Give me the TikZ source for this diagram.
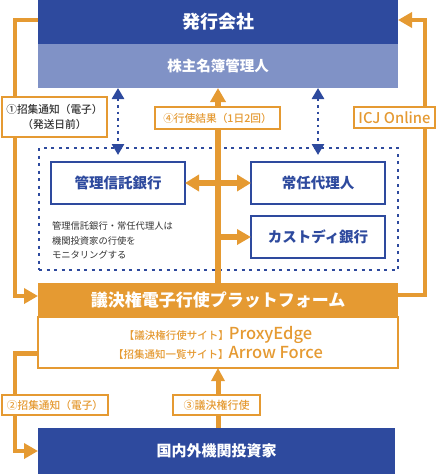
\documentclass[tikz,border=0pt]{standalone}
\usepackage{fontspec}
\setmainfont{Noto Sans CJK JP}
\newfontfamily\jpmed{Noto Sans CJK JP Medium}
\usetikzlibrary{arrows.meta}
\definecolor{dkblue}{HTML}{2E4A9E}
\definecolor{ltblue}{HTML}{8092C6}
\definecolor{orng}{HTML}{E59A32}
\definecolor{txtdark}{HTML}{333333}
\begin{document}
\begin{tikzpicture}[x=1pt,y=-1pt,
 box/.style={rectangle, inner sep=0pt, outer sep=0pt},
 bandbox/.style={box, minimum width=360pt, text=white},
 bluebox/.style={box, draw=dkblue, line width=1.6pt, fill=white, text=dkblue, font=\bfseries\fontsize{14.5}{16}\selectfont, minimum width=134pt, minimum height=42pt},
 lbl/.style={box, draw=orng, line width=1.5pt, fill=white, text=orng, font=\jpmed\fontsize{10.7}{15}\selectfont, align=center},
 oline/.style={draw=orng, line width=5pt},
 ohead/.style={-{Triangle[length=14pt,width=15pt]}},
 bdot/.style={draw=dkblue, line width=2.6pt, dash pattern=on 2.6pt off 4pt, {Triangle[length=11pt,width=12pt]}-{Triangle[length=11pt,width=12pt]}},
]
\useasboundingbox (0,0) rectangle (436,474);
\coordinate (Lx) at (15,0);
\coordinate (Rx) at (425,0);

% top bands
\node[bandbox, fill=dkblue, minimum height=44pt, font=\bfseries\fontsize{18}{20}\selectfont] (issuer) at (218,22) {発行会社};
\node[bandbox, fill=ltblue, minimum height=44pt, font=\bfseries\fontsize{14.5}{16}\selectfont] (registrar) at (218,66) {株主名簿管理人};

% monitoring area
\node[box, draw=dkblue, line width=1.2pt, dash pattern=on 3pt off 4.5pt, minimum width=359pt, minimum height=122pt] (monitor) at (218.5,209) {};
\node[bluebox] (trust) at (118,183) {管理信託銀行};
\node[bluebox] (standing) at (318,183) {常任代理人};
\node[bluebox] (custody) at (318,237) {カストディ銀行};
\node[box, anchor=north west, align=left, text=txtdark, font=\fontsize{9.3}{14.5}\selectfont] (note) at (52,222) {管理信託銀行・常任代理人は\\機関投資家の行使を\\モニタリングする};

% platform
\node[box, draw=orng, line width=1.5pt, fill=white, minimum width=360pt, minimum height=51pt, text=orng, align=center, font=\jpmed\fontsize{16.5}{19}\selectfont] (sites) at (218,342.5) {{\fontsize{10.5}{19}\selectfont 【議決権行使サイト】}ProxyEdge\\{\fontsize{10.5}{19}\selectfont 【招集通知一覧サイト】}Arrow Force};
\node[bandbox, fill=orng, minimum height=35pt, font=\bfseries\fontsize{17}{19}\selectfont] (platform) at (218,300) {議決権電子行使プラットフォーム};

% investors
\node[box, fill=dkblue, text=white, minimum width=357pt, minimum height=46pt, font=\bfseries\fontsize{15}{17}\selectfont] (investor) at (216.5,451) {国内外機関投資家};

% connectors
\draw[oline, line width=4.5pt, ohead] ([yshift=2pt]issuer.west) -- ([yshift=2pt]issuer.west -| Lx) -- ([yshift=4pt]platform.west -| Lx) -- ([yshift=4pt]platform.west);
\draw[oline, line width=4.5pt, ohead] ([yshift=5pt]platform.east) -- ([yshift=5pt]platform.east -| Rx) -- ([yshift=2pt]issuer.east -| Rx) -- ([yshift=2pt]issuer.east);
\draw[oline, line width=5.5pt, ohead] (platform.north) -- (registrar.south);
\draw[oline, line width=5.5pt, {Triangle[length=14pt,width=16pt]}-{Triangle[length=14pt,width=16pt]}] (trust.east) -- (standing.west);
\draw[oline, line width=5.5pt, ohead] (platform.north |- custody.west) -- (custody.west);
\draw[oline, line width=4.5pt, ohead] ([yshift=-11pt]sites.west) -- ([yshift=-11pt]sites.west -| Lx) -- (investor.west -| Lx) -- (investor.west);
\draw[oline, line width=5pt, -{Triangle[length=13pt,width=13pt]}] (platform.north |- investor.north) -- (platform.north |- sites.south);
\draw[bdot] (registrar.south -| trust.north) -- ([yshift=7pt]trust.north);
\draw[bdot] (registrar.south -| standing.north) -- ([yshift=7pt]standing.north);

% labels
\node[lbl, text=txtdark, minimum width=105pt, minimum height=40pt] (l1) at (54.5,117) {①招集通知（電子）\\（発送日前）};
\node[lbl, minimum width=125pt, minimum height=22pt] (l4) at (217.5,118) {④行使結果（1日2回）};
\node[lbl, font=\jpmed\fontsize{14.8}{16}\selectfont, minimum width=81pt, minimum height=21pt] (licj) at (394.5,117.5) {ICJ Online};
\node[lbl, minimum width=106pt, minimum height=20pt] (l2) at (55,405) {②招集通知（電子）};
\node[lbl, font=\jpmed\fontsize{11}{13}\selectfont, minimum width=87pt, minimum height=20pt] (l3) at (216.5,405) {③議決権行使};
\end{tikzpicture}
\end{document}
